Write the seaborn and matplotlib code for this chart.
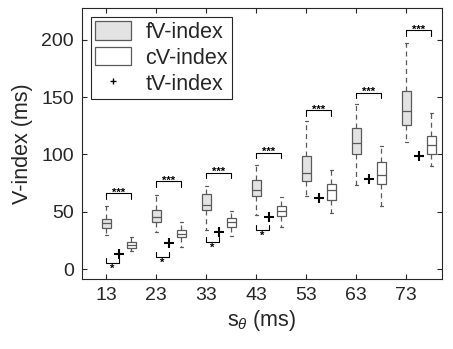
import numpy as np
import pandas as pd
import matplotlib
matplotlib.use("Agg")
import matplotlib.pyplot as plt
from matplotlib.patches import Patch
from matplotlib.lines import Line2D
import seaborn as sns

# ---- data ----
s_theta = [13, 23, 33, 43, 53, 63, 73]

fv_min = [29.7, 32.5, 34.0, 47.0, 63.7, 73.3, 111.0]
fv_q1 = [36.0, 40.7, 51.5, 64.0, 77.0, 100.3, 125.7]
fv_med = [39.9, 45.6, 55.8, 69.0, 84.0, 110.2, 138.0]
fv_q3 = [43.6, 51.5, 65.2, 77.7, 98.6, 122.8, 155.6]
fv_max = [55.0, 65.0, 72.4, 90.7, 129.4, 144.0, 197.5]

cv_min = [15.7, 19.0, 29.0, 37.0, 49.0, 55.0, 90.0]
cv_q1 = [18.6, 27.6, 37.0, 46.2, 60.2, 74.2, 100.3]
cv_med = [21.0, 30.5, 41.3, 51.0, 69.0, 82.0, 108.2]
cv_q3 = [23.3, 34.0, 44.2, 55.0, 74.2, 93.6, 116.0]
cv_max = [27.7, 41.3, 51.0, 63.0, 86.4, 107.3, 136.4]

tv_values = [13.0, 23.0, 32.0, 45.0, 61.7, 78.5, 98.6]

sig_fc_level = [66.0, 76.8, 84.0, 101.5, 138.7, 153.8, 208.5]   # *** brackets fV vs cV
sig_ft_level = [5.5, 10.7, 23.8, 34.0]                            # * brackets fV vs tV

yticks = [0, 50, 100, 150, 200]
legend_labels = ["fV-index", "cV-index", "tV-index"]

CV_OFFSET = 5.0
TV_OFFSET = 2.5


def five_number_frame(xs, mins, q1s, meds, q3s, maxs):
    rows = []
    for x, a, b, c, d, e in zip(xs, mins, q1s, meds, q3s, maxs):
        for v in (a, b, c, d, e):
            rows.append({"s": x, "v": v})
    return pd.DataFrame(rows)


fv_df = five_number_frame(s_theta, fv_min, fv_q1, fv_med, fv_q3, fv_max)
cv_df = five_number_frame([x + CV_OFFSET for x in s_theta], cv_min, cv_q1, cv_med, cv_q3, cv_max)
tv_df = pd.DataFrame({"s": [x + TV_OFFSET for x in s_theta], "v": tv_values})

sns.set_theme(style="white")
plt.rcParams["font.family"] = ["Liberation Sans", "DejaVu Sans"]
plt.rcParams["mathtext.fontset"] = "custom"
plt.rcParams["mathtext.rm"] = "Liberation Sans"
plt.rcParams["mathtext.it"] = "Liberation Sans:italic"

TXT = "#262626"
EDGE = "#5a5a5a"
FV_FILL = "#e3e3e3"

fig = plt.figure(figsize=(4.53, 3.49), dpi=100)
ax = fig.add_axes([0.181, 0.2006, 0.795, 0.7765])

common = dict(native_scale=True, width=0.18, whis=(0, 100), saturation=1,
              linecolor=EDGE, linewidth=0.9, fliersize=0,
              whiskerprops=dict(linestyle=(0, (4, 3))),
              capwidths=0.6, ax=ax)
sns.boxplot(data=fv_df, x="s", y="v", color=FV_FILL, **common)
sns.boxplot(data=cv_df, x="s", y="v", color="white", **common)
sns.scatterplot(data=tv_df, x="s", y="v", marker="+", s=55, color="black",
                linewidth=1.5, ax=ax, zorder=5)

# significance brackets
for x, lvl in zip(s_theta, sig_fc_level):
    x0, x1 = x, x + CV_OFFSET
    ax.plot([x0, x0, x1, x1], [lvl - 5, lvl, lvl, lvl - 5], color="black", lw=0.8)
    ax.text((x0 + x1) / 2, lvl + 0.5, "***", ha="center", va="center",
            fontsize=8, fontweight="bold", color="black")
for x, lvl in zip(s_theta, sig_ft_level):
    x0, x1 = x, x + TV_OFFSET
    ax.plot([x0, x0, x1, x1], [lvl + 4, lvl, lvl, lvl + 4], color="black", lw=0.8)
    ax.text((x0 + x1) / 2, lvl - 5.0, "*", ha="center", va="center",
            fontsize=8, fontweight="bold", color="black")

ax.set_xlim(8.2, 80.2)
ax.set_ylim(-8.7, 227.7)
ax.set_xticks(s_theta)
ax.set_xticklabels([str(v) for v in s_theta])
ax.set_yticks(yticks)
ax.set_yticklabels([str(v) for v in yticks])
ax.tick_params(direction="in", length=3.5, width=0.8, colors=TXT, labelsize=14,
               top=True, right=True, bottom=True, left=True, pad=6)
for sp in ax.spines.values():
    sp.set_visible(True)
    sp.set_color(TXT)
    sp.set_linewidth(0.8)

ax.set_xlabel(r"s$_{\theta}$ (ms)", fontsize=15.5, color=TXT, labelpad=3)
ax.set_ylabel("V-index (ms)", fontsize=15.5, color=TXT, labelpad=6)

handles = [
    Patch(facecolor=FV_FILL, edgecolor=EDGE, linewidth=0.9),
    Patch(facecolor="white", edgecolor=EDGE, linewidth=0.9),
    Line2D([], [], marker="+", color="black", linestyle="none", markersize=5, markeredgewidth=1.0),
]
leg = ax.legend(handles, legend_labels, loc="upper left", fontsize=15.5,
                frameon=True, fancybox=False, framealpha=1, edgecolor=TXT,
                handlelength=1.67, handleheight=0.93, labelspacing=0.2,
                handletextpad=0.65, borderpad=0.2, borderaxespad=0.42)
leg.get_frame().set_linewidth(0.8)
for t in leg.get_texts():
    t.set_color(TXT)

fig.savefig("out.png", dpi=100)
